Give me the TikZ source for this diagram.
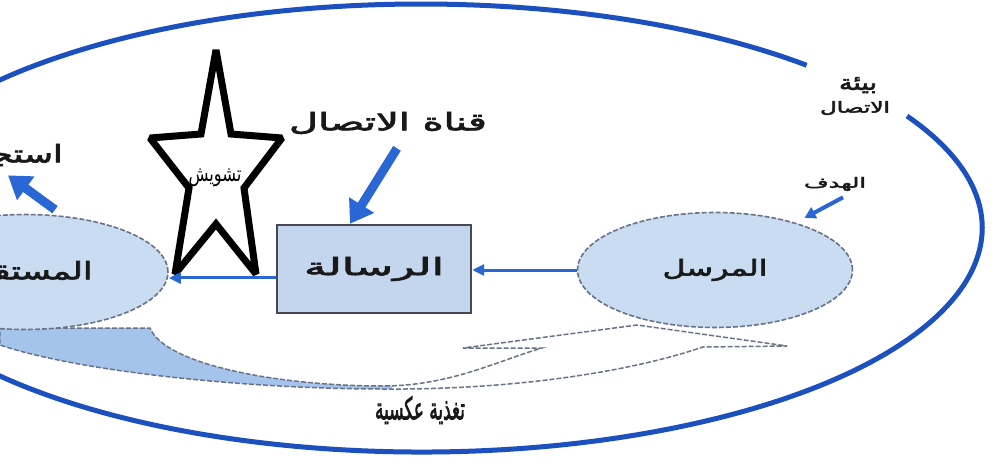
\documentclass[tikz,border=0pt]{standalone}
\usepackage{fontspec}
\usepackage{graphicx}
\usetikzlibrary{shapes.geometric,arrows.meta}
\TeXXeTstate=1
\newfontfamily\arabicfont[Script=Arabic]{DejaVu Sans}
\newfontfamily\arabicbold[Script=Arabic,FakeBold=2.5]{DejaVu Sans}
\newlength\pxd \setlength\pxd{0.02cm}
\newcommand\arfit[3]{\resizebox*{#1\pxd}{#2\pxd}{\arabicbold #3}}
\newcommand\arfitr[3]{\resizebox*{#1\pxd}{#2\pxd}{\arabicfont #3}}
\definecolor{envblue}{RGB}{28,80,190}
\definecolor{arrblue}{RGB}{42,102,212}
\definecolor{ellfill}{RGB}{202,220,242}
\definecolor{boxfill}{RGB}{196,213,238}
\definecolor{fbfill}{RGB}{165,196,236}
\definecolor{edgegray}{RGB}{105,115,135}
\definecolor{boxedge}{RGB}{70,72,82}
\definecolor{inkc}{RGB}{25,25,25}
\begin{document}
\begin{tikzpicture}[x=0.02cm,y=-0.02cm,
  envline/.style={draw=envblue, line width=0.1cm},
  ell/.style={ellipse, draw=edgegray, line width=0.032cm, dash pattern=on 0.1cm off 0.04cm, fill=ellfill, inner sep=0pt, text=inkc},
  msgbox/.style={rectangle, draw=boxedge, line width=0.05cm, fill=boxfill, inner sep=0pt, text=inkc},
  lbl/.style={inner sep=0pt, text=inkc},
  conn/.style={draw=arrblue, line width=0.06cm, -{Triangle[length=0.24cm, width=0.22cm]}},
  bigarrow/.style={draw=arrblue, line width=0.18cm, -{Triangle[length=0.44cm, width=0.56cm]}},
  midarrow/.style={draw=arrblue, line width=0.08cm, -{Triangle[length=0.22cm, width=0.24cm]}},
  fbedge/.style={draw=edgegray, line width=0.03cm, dash pattern=on 0.1cm off 0.04cm},
  starline/.style={draw=black, line width=0.14cm, line join=miter, miter limit=2}
]
\useasboundingbox (0,0) rectangle (998,473);
\fill[white] (0,0) rectangle (998,473);
\clip (0,0) rectangle (998,473);

% environment of communication
\draw[envline] (907,116) arc[start angle=-30, end angle=313.4, x radius=561, y radius=224];

% feedback arrow
\def\fbpath{(0,328) -- (150,328) .. controls (165,365) and (280,386) .. (383,386)
  .. controls (450,386) and (500,360) .. (542,348) -- (463,348) -- (637,325) -- (787,346) -- (703,347)
  .. controls (620,375) and (500,390) .. (383,389) .. controls (250,389) and (80,372) .. (0,345) -- cycle}
\fill[white] \fbpath;
\begin{scope}
  \clip (-10,300) rectangle (392,400);
  \fill[fbfill] \fbpath;
\end{scope}
\draw[fbedge] \fbpath;

% main nodes
\node[ell, minimum width=5.72cm, minimum height=2.3cm] (recv) at (25,272) {\arfit{135}{22}{\beginR المستقبل\endR}};
\node[ell, minimum width=5.5cm, minimum height=2.3cm] (send) at (715,270) {\arfit{105}{22}{\beginR المرسل\endR}};
\node[msgbox, minimum width=3.88cm, minimum height=1.76cm] (msg) at (374,269) {\arfit{140}{24}{\beginR الرسالة\endR}};

% labels
\node[lbl] (chan) at (388,123) {\arfit{198}{22}{\beginR قناة الاتصال\endR}};
\node[lbl, anchor=east] (resp) at (63,155) {\arfit{110}{22}{\beginR استجابة\endR}};
\node[lbl] (goal) at (835,184) {\arfit{62}{14}{\beginR الهدف\endR}};
\node[lbl] (env1) at (858,85) {\arfit{38}{16}{\beginR بيئة\endR}};
\node[lbl] (env2) at (855,108) {\arfit{70}{14}{\beginR الاتصال\endR}};
\node[lbl] (fb) at (420,410) {\arfit{90}{28}{\beginR تغذية عكسية\endR}};

% noise star
\draw[starline] (216,50) -- (231,134) -- (282,138) -- (244,188) -- (256,274) -- (216,224)
  -- (175,274) -- (189,188) -- (150,138) -- (201,134) -- cycle;
\node[lbl, text=black] (noise) at (215,178) {\arfitr{53}{18}{\beginR تشويش\endR}};

% connectors
\draw[conn] (send.west) -- (send.west -| msg.east);
\path ([yshift=-0.18cm]msg.west) coordinate (m1);
\draw[conn] (m1) -- (m1 -| recv.east);
\draw[bigarrow] ([shift={(9,14)}]chan.south) -- ([shift={(-24,0)}]msg.north);
\draw[bigarrow] ([shift={(30,-4)}]recv.north) -- ([shift={(-55,9)}]resp.south east);
\draw[midarrow] ([shift={(8,6)}]goal.south) -- ([shift={(8,-5)}]send.30);
\end{tikzpicture}
\end{document}
